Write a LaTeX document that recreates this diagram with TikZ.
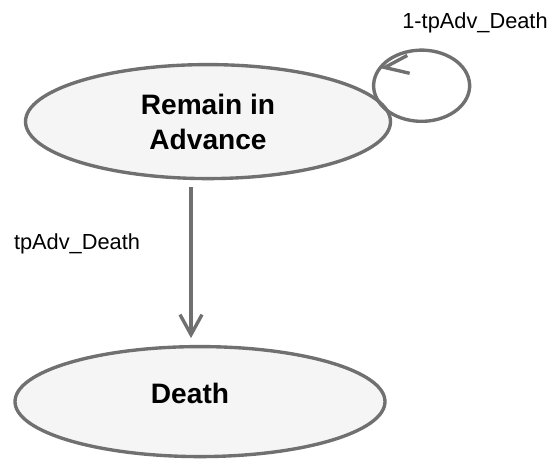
\documentclass[tikz,border=0pt]{standalone}
\usepackage{fontspec}
\setmainfont{Liberation Sans}
\usetikzlibrary{shapes.geometric, arrows.meta, decorations.markings}
\definecolor{edgegray}{RGB}{112, 112, 112}
\definecolor{statefill}{RGB}{245, 245, 245}

\begin{document}
\begin{tikzpicture}[
    state/.style={ellipse, draw=edgegray, fill=statefill, line width=2.4pt, inner sep=0pt, align=center, font=\fontsize{20}{25}\selectfont\bfseries},
    arrow/.style={-{Straight Barb[length=0.5cm, width=0.55cm]}, line width=2.4pt, edgegray},
    % tip turned so it lies flat across the top left of the loop
    selfloop/.style={line width=2.4pt, edgegray, postaction=decorate,
        decoration={markings, mark=at position 0.88 with {\pgftransformrotate{-45}\arrow{Straight Barb[length=0.6cm, width=0.45cm]}}}},
    prob/.style={font=\fontsize{15.5}{18}\selectfont, inner sep=1pt}
]
    \useasboundingbox (0,0) rectangle (13.8,11.55);

    \node[state, minimum width=9.125cm, minimum height=2.85cm] (adv) at (5.2,8.51) {Remain in\\Advance};
    \node[state, minimum width=9.25cm, minimum height=2.75cm] (death) at (5.0,1.51) {\raisebox{0.4cm}{Death}\hspace{0.5cm}};

    % loop back into the same state
    \draw[selfloop] (adv.8) arc[start angle=200, end angle=560, x radius=1.2cm, y radius=0.89cm];

    \draw[arrow, shorten <=0.17cm, shorten >=0.17cm] ([xshift=-0.425cm]adv.south) -- ([xshift=-0.225cm]death.north);

    \node[prob] (pstay) at (11.875,10.975) {1-tpAdv\_Death};
    \node[prob] (pdie) at (1.925,5.45) {tpAdv\_Death};
\end{tikzpicture}
\end{document}
